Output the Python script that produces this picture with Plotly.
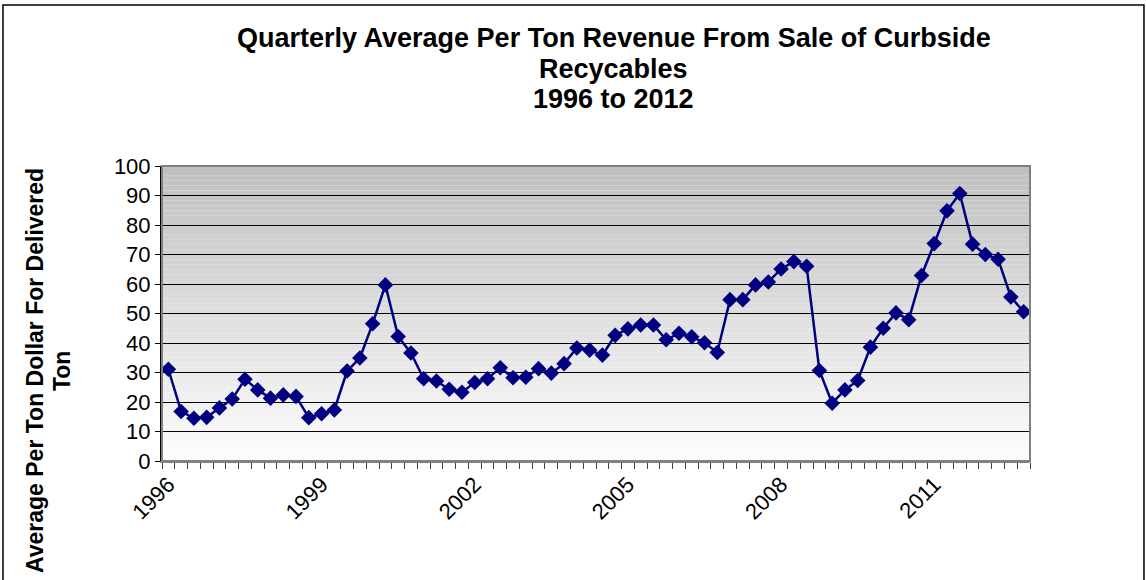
import plotly.graph_objects as go

years = list(range(1996, 2013))
quarters = [f"{y} Q{q}" for y in years for q in range(1, 5)]

# quarterly average revenue per delivered ton ($)
revenue = [
    31.1, 16.8, 14.5, 14.8, 18.0, 21.0, 27.7, 24.1,
    21.3, 22.4, 21.9, 14.7, 16.0, 17.3, 30.5, 34.9,
    46.5, 59.7, 42.2, 36.6, 27.9, 27.1, 24.3, 23.3,
    26.6, 27.9, 31.6, 28.2, 28.4, 31.3, 29.8, 33.0,
    38.3, 37.6, 35.9, 42.6, 44.8, 46.1, 46.1, 41.1,
    43.3, 42.1, 40.1, 36.8, 54.7, 54.7, 59.7, 60.7,
    65.1, 67.6, 66.0, 30.7, 19.6, 24.1, 27.3, 38.6,
    45.0, 50.2, 47.9, 62.9, 73.7, 84.8, 90.7, 73.5,
    70.0, 68.4, 55.6, 50.6,
]

label_years = ["1996", "1999", "2002", "2005", "2008", "2011"]
tick_text = [q[:4] if q.endswith("Q1") and q[:4] in label_years else "" for q in quarters]

title_lines = ["Quarterly Average Per Ton Revenue From Sale of Curbside", "Recycables", "1996 to 2012"]
ytitle_lines = ["Average Per Ton Dollar For Delivered", "Ton"]

font = "Liberation Sans, Arial, sans-serif"

fig = go.Figure()
fig.add_trace(go.Scatter(
    x=quarters, y=revenue, mode="lines+markers",
    line=dict(color="#000080", width=2.5),
    marker=dict(symbol="diamond", size=12, color="#000080"),
    showlegend=False,
))

# vertical gray-to-white gradient behind the plot area
shapes = []
n = 60
for i in range(n):
    t = (i + 0.5) / n
    c = int(round(253 - (253 - 191) * t))
    shapes.append(dict(type="rect", xref="paper", yref="paper", x0=0, x1=1,
                       y0=i / n, y1=(i + 1) / n, line=dict(width=0),
                       fillcolor=f"rgb({c},{c},{c})", layer="below"))
# plot area frame (gray) and outer chart border
shapes.append(dict(type="rect", xref="paper", yref="paper", x0=0, x1=1, y0=0, y1=1,
                   line=dict(color="#808080", width=2), layer="above"))
shapes.append(dict(type="rect", xref="paper", yref="paper", x0=-0.1832, x1=1.1313,
                   y0=-0.45, y1=1.5458, line=dict(color="#000000", width=1.5), layer="above"))

annotations = []
for text, y in zip(title_lines, [1.434, 1.329, 1.227]):
    annotations.append(dict(text=f"<b>{text}</b>", xref="paper", yref="paper",
                            x=0.5207, y=y, xanchor="center", yanchor="middle",
                            showarrow=False, font=dict(size=27, family=font, color="black")))
for text, x in zip(ytitle_lines, [-0.1463, -0.1152]):
    annotations.append(dict(text=f"<b>{text}</b>", xref="paper", yref="paper",
                            x=x, y=0.305, xanchor="center", yanchor="middle", textangle=-90,
                            showarrow=False, font=dict(size=23, family=font, color="black")))

fig.update_layout(
    width=1146, height=580,
    margin=dict(l=162, r=116, t=166, b=119),
    paper_bgcolor="white", plot_bgcolor="white",
    font=dict(family=font, color="black"),
    shapes=shapes,
    annotations=annotations,
)

fig.update_yaxes(
    range=[0, 100], dtick=10, showgrid=True, gridcolor="black", gridwidth=1,
    showline=True, linecolor="black", linewidth=2,
    ticks="outside", ticklen=5, tickcolor="black",
    tickfont=dict(size=22, family=font), zeroline=False,
)
fig.update_xaxes(
    type="category", range=[-0.5, len(quarters) - 0.5],
    tickmode="array", tickvals=quarters, ticktext=tick_text,
    tickson="boundaries", ticks="outside", ticklen=6, tickcolor="#404040",
    tickangle=-45, tickfont=dict(size=22, family=font),
    showgrid=False, showline=True, linecolor="#808080", linewidth=2,
)

fig.write_html("out.html", config={"displayModeBar": False},
               post_script="document.body.style.margin='0';")
